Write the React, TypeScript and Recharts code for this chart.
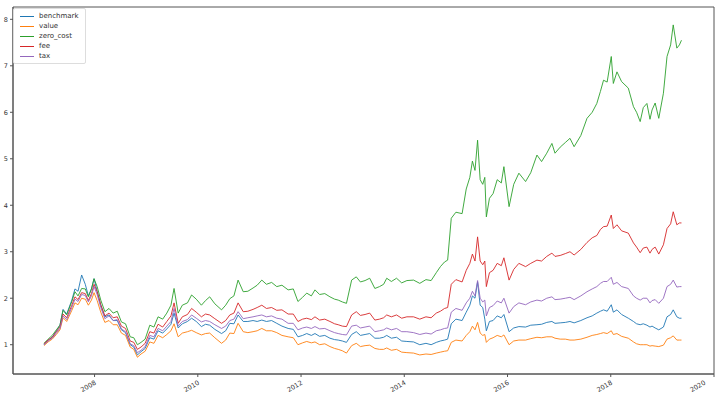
import { Line, LineChart, ReferenceArea, XAxis, YAxis } from 'recharts';

// decimal years
const dates = [
  2007.02, 2007.1, 2007.18, 2007.26, 2007.33, 2007.39, 2007.46, 2007.56, 2007.62, 2007.68,
  2007.75, 2007.82, 2007.88, 2007.94, 2007.99, 2008.05, 2008.12, 2008.2, 2008.28, 2008.36,
  2008.44, 2008.52, 2008.6, 2008.69, 2008.76, 2008.83, 2008.9, 2008.98, 2009.07, 2009.15,
  2009.23, 2009.32, 2009.4, 2009.48, 2009.54, 2009.62, 2009.7, 2009.8, 2009.88, 2009.97,
  2010.07, 2010.15, 2010.23, 2010.33, 2010.46, 2010.54, 2010.62, 2010.7, 2010.78, 2010.88,
  2010.97, 2011.07, 2011.15, 2011.24, 2011.33, 2011.43, 2011.53, 2011.63, 2011.75, 2011.85,
  2011.94, 2012.03, 2012.11, 2012.2, 2012.27, 2012.36, 2012.46, 2012.56, 2012.65, 2012.72,
  2012.8, 2012.88, 2012.98, 2013.07, 2013.15, 2013.24, 2013.33, 2013.43, 2013.52, 2013.6,
  2013.66, 2013.75, 2013.85, 2013.95, 2014.05, 2014.18, 2014.3, 2014.42, 2014.52, 2014.62,
  2014.7, 2014.78, 2014.84, 2014.91, 2015.0, 2015.12, 2015.2, 2015.27, 2015.32, 2015.37,
  2015.42, 2015.47, 2015.52, 2015.56, 2015.59, 2015.65, 2015.72, 2015.8, 2015.88, 2015.93,
  2016.03, 2016.12, 2016.22, 2016.35, 2016.45, 2016.57, 2016.66, 2016.76, 2016.86, 2016.92,
  2017.02, 2017.12, 2017.21, 2017.29, 2017.42, 2017.54, 2017.64, 2017.73, 2017.8, 2017.86,
  2017.93, 2018.01, 2018.05, 2018.12, 2018.21, 2018.34, 2018.44, 2018.5, 2018.57, 2018.63,
  2018.7, 2018.76, 2018.8, 2018.86, 2018.93, 2019.02, 2019.09, 2019.16, 2019.21, 2019.28,
  2019.33, 2019.37,
];

const benchmark = [
  1.0, 1.1, 1.16, 1.3, 1.42, 1.76, 1.66, 1.96, 2.2, 2.15,
  2.5, 2.3, 2.05, 2.2, 2.42, 2.15, 1.85, 1.6, 1.64, 1.52,
  1.52, 1.32, 1.26, 1.0, 0.95, 0.78, 0.85, 0.92, 1.15, 1.12,
  1.3, 1.25, 1.34, 1.44, 1.68, 1.36, 1.45, 1.5, 1.57, 1.5,
  1.39, 1.44, 1.42, 1.33, 1.24, 1.3, 1.46, 1.45, 1.64, 1.5,
  1.5, 1.52, 1.5, 1.53, 1.5, 1.52, 1.46, 1.4, 1.35, 1.33,
  1.17, 1.2, 1.24, 1.2, 1.24, 1.18, 1.2, 1.14, 1.11, 1.1,
  1.08, 1.05, 1.22, 1.28, 1.2, 1.22, 1.24, 1.14, 1.14, 1.16,
  1.2, 1.14, 1.16, 1.08, 1.07, 1.06, 1.0, 1.03, 1.0, 1.05,
  1.08, 1.1, 1.12, 1.45, 1.55, 1.52, 1.7, 1.85, 2.05, 2.0,
  2.35, 1.85, 1.8, 1.55, 1.3, 1.5, 1.52, 1.62, 1.58, 1.65,
  1.28, 1.36, 1.39, 1.38, 1.42, 1.43, 1.44, 1.48, 1.5, 1.46,
  1.47, 1.48, 1.5, 1.47, 1.52, 1.58, 1.62, 1.68, 1.72, 1.75,
  1.72, 1.86, 1.7, 1.75, 1.65, 1.57, 1.5, 1.45, 1.43, 1.45,
  1.42, 1.38, 1.4, 1.36, 1.32, 1.38, 1.6, 1.65, 1.75, 1.6,
  1.57, 1.57,
];

const value = [
  0.98, 1.06, 1.12, 1.22, 1.32, 1.58, 1.5, 1.74, 1.9, 1.86,
  2.0, 1.98, 1.85, 1.96, 2.12, 1.95, 1.7, 1.48, 1.52, 1.43,
  1.43, 1.25, 1.2, 0.95, 0.9, 0.73, 0.8, 0.86, 1.06, 1.03,
  1.2, 1.15, 1.22, 1.3, 1.45, 1.17, 1.25, 1.28, 1.31, 1.26,
  1.21, 1.24, 1.25, 1.15, 1.03, 1.1, 1.25, 1.24, 1.46, 1.28,
  1.26, 1.28, 1.3, 1.35, 1.3, 1.3, 1.26, 1.2, 1.17, 1.15,
  1.0, 1.04, 1.07, 1.04, 1.06, 1.0, 1.02, 0.96, 0.92, 0.9,
  0.87, 0.82, 0.98, 1.03, 0.96, 0.98, 0.99, 0.92, 0.9, 0.9,
  0.93, 0.88, 0.9, 0.84, 0.83, 0.82, 0.78, 0.8, 0.79, 0.82,
  0.84, 0.86, 0.87, 1.05, 1.1, 1.08, 1.2, 1.28, 1.4, 1.32,
  1.48, 1.25, 1.2, 1.22, 1.05, 1.12, 1.15, 1.2, 1.17, 1.21,
  1.0, 1.08, 1.1, 1.1, 1.13, 1.16, 1.15, 1.17, 1.17, 1.14,
  1.12, 1.12, 1.1, 1.1, 1.12, 1.16, 1.2, 1.22, 1.24, 1.26,
  1.24, 1.3, 1.22, 1.24, 1.18, 1.14, 1.06, 1.02, 1.0, 1.0,
  1.0, 0.97, 0.98, 0.97, 0.96, 0.99, 1.12, 1.15, 1.19, 1.1,
  1.1, 1.1,
];

const zeroCost = [
  1.03, 1.12, 1.2, 1.32, 1.42, 1.74, 1.64, 1.93, 2.14, 2.05,
  2.21, 2.2, 2.03, 2.2, 2.42, 2.25, 1.96, 1.71, 1.78, 1.68,
  1.72, 1.49, 1.45, 1.17, 1.15, 1.0, 1.05, 1.12, 1.42, 1.38,
  1.6, 1.55, 1.68, 1.85, 2.21, 1.68, 1.85, 1.9, 2.07, 1.98,
  1.85, 1.95, 2.03, 1.88, 1.75, 1.85, 1.99, 2.05, 2.39, 2.14,
  2.15, 2.22, 2.28, 2.39, 2.3, 2.34, 2.25, 2.28, 2.18, 2.2,
  1.93, 2.02, 2.11, 2.05, 2.18, 2.08, 2.1, 2.03, 1.98, 1.96,
  1.92, 1.89, 2.39, 2.46, 2.35, 2.38, 2.43, 2.21, 2.25, 2.3,
  2.43, 2.36, 2.43, 2.33, 2.38, 2.39, 2.32, 2.4, 2.38, 2.55,
  2.68, 2.78, 2.82, 3.72, 3.85, 3.82, 4.35, 4.6, 4.95, 4.75,
  5.4, 4.55, 4.45, 4.6, 3.75, 4.15, 4.25, 4.55, 4.48, 4.83,
  3.97, 4.45, 4.69, 4.51, 4.7, 5.08, 4.94, 5.12, 5.33, 5.12,
  5.25, 5.35, 5.44, 5.26, 5.5, 5.87, 6.0, 6.19, 6.45, 6.69,
  6.65, 7.2, 6.62, 6.87, 6.66, 6.52, 6.12, 6.0, 5.8, 6.1,
  6.19, 5.85, 6.05, 6.2, 5.87, 6.41, 7.2, 7.45, 7.88, 7.38,
  7.45, 7.55,
];

const fee = [
  1.02, 1.1, 1.16, 1.28, 1.38, 1.66, 1.58, 1.85, 2.03, 1.97,
  2.12, 2.1, 1.95, 2.1, 2.3, 2.14, 1.86, 1.62, 1.68, 1.58,
  1.6, 1.4, 1.35, 1.08, 1.05, 0.9, 0.95, 1.03, 1.28, 1.25,
  1.44, 1.38, 1.5, 1.62, 1.9, 1.46, 1.6, 1.65, 1.78, 1.7,
  1.6, 1.66, 1.64, 1.56, 1.46, 1.52, 1.64, 1.68, 1.9, 1.71,
  1.72, 1.76, 1.8, 1.85, 1.78, 1.8, 1.74, 1.75, 1.66, 1.66,
  1.5, 1.55, 1.57, 1.54, 1.6, 1.53, 1.55, 1.5, 1.45, 1.43,
  1.4, 1.39, 1.64, 1.71, 1.63, 1.65, 1.68, 1.53, 1.55, 1.58,
  1.64, 1.6, 1.64, 1.57, 1.6, 1.6, 1.55, 1.6, 1.58, 1.68,
  1.72, 1.78, 1.8, 2.3, 2.4, 2.35, 2.6, 2.75, 2.95, 2.8,
  3.32, 2.8, 2.72, 2.8, 2.25, 2.55, 2.6, 2.75, 2.7, 2.87,
  2.39, 2.62, 2.75, 2.68, 2.75, 2.82, 2.8, 2.9, 2.97, 2.9,
  2.92, 2.96, 3.0, 2.93, 3.05, 3.2, 3.3, 3.35, 3.48, 3.54,
  3.55, 3.79, 3.5, 3.58, 3.45, 3.4, 3.19, 3.1, 2.98, 3.08,
  3.1, 2.97, 3.05, 3.1, 2.95, 3.15, 3.5, 3.6, 3.86, 3.58,
  3.62, 3.62,
];

const tax = [
  1.0, 1.08, 1.14, 1.25, 1.35, 1.62, 1.54, 1.8, 1.98, 1.93,
  2.08, 2.06, 1.92, 2.05, 2.25, 2.08, 1.8, 1.56, 1.62, 1.52,
  1.54, 1.34, 1.28, 1.02, 0.98, 0.83, 0.88, 0.96, 1.2, 1.17,
  1.35, 1.3, 1.4, 1.5, 1.78, 1.4, 1.5, 1.54, 1.64, 1.57,
  1.49, 1.52, 1.5, 1.43, 1.35, 1.4, 1.52, 1.55, 1.71, 1.56,
  1.58, 1.6, 1.62, 1.64, 1.6, 1.62, 1.57, 1.55, 1.46, 1.46,
  1.32, 1.36, 1.38, 1.35, 1.39, 1.34, 1.35, 1.3, 1.26, 1.24,
  1.22, 1.21, 1.4, 1.42, 1.36, 1.38, 1.4, 1.28, 1.3, 1.32,
  1.36, 1.32, 1.35, 1.28, 1.28, 1.26, 1.22, 1.25, 1.23, 1.3,
  1.32, 1.35, 1.36, 1.7, 1.78, 1.74, 1.9, 2.0, 2.15, 2.05,
  2.38, 2.0, 1.92, 1.96, 1.62, 1.8, 1.84, 1.94, 1.9, 2.0,
  1.68, 1.82, 1.9, 1.86, 1.92, 1.96, 1.94, 2.0, 2.03, 1.97,
  1.98, 2.0, 2.02, 1.97, 2.05, 2.14, 2.2, 2.25, 2.32, 2.36,
  2.36, 2.45, 2.3, 2.34, 2.25, 2.21, 2.05, 2.0, 1.96, 2.0,
  2.0, 1.9, 1.95, 1.97, 1.89, 2.0, 2.25, 2.3, 2.39, 2.24,
  2.25, 2.25,
];

const xTicks = [2008, 2010, 2012, 2014, 2016, 2018, 2020];
const yTicks = [1, 2, 3, 4, 5, 6, 7, 8];

const series = [
  { key: 'benchmark', color: '#1f77b4' },
  { key: 'value', color: '#ff7f0e' },
  { key: 'zero_cost', color: '#2ca02c' },
  { key: 'fee', color: '#d62728' },
  { key: 'tax', color: '#9467bd' },
];

const data = dates.map((t, i) => ({
  t,
  benchmark: benchmark[i],
  value: value[i],
  zero_cost: zeroCost[i],
  fee: fee[i],
  tax: tax[i],
}));

const FONT = '"DejaVu Sans", sans-serif';
const SPINE = '#555';
const X_DOMAIN: [number, number] = [2006.42, 2020];
const Y_DOMAIN: [number, number] = [0.37, 8.265];

function XTick({ x, y, payload }: any) {
  const ax = x + 2;
  const ay = y + 5;
  return (
    <text
      x={ax}
      y={ay}
      transform={`rotate(-30 ${ax} ${ay})`}
      textAnchor="end"
      fontSize={6.5}
      fontFamily={FONT}
      fill="#333"
    >
      {payload.value}
    </text>
  );
}

// matplotlib-style legend in the upper left corner of the axes
function LegendBox() {
  return (
    <div
      style={{
        position: 'absolute',
        left: 13,
        top: 8,
        border: '1px solid #ddd',
        borderRadius: 2,
        background: 'rgba(255,255,255,0.8)',
        padding: '2px 6px 2px 6px',
        fontFamily: FONT,
        fontSize: 7,
        color: '#333',
      }}
    >
      {series.map((s) => (
        <div key={s.key} style={{ display: 'flex', alignItems: 'center', height: 10 }}>
          <span style={{ width: 14, height: 1, background: s.color, marginRight: 5 }} />
          <span>{s.key}</span>
        </div>
      ))}
    </div>
  );
}

export default function App() {
  return (
    <div style={{ position: 'absolute', left: 0, top: 0, width: 720, height: 397, background: '#fff' }}>
      <LineChart width={720} height={397} data={data} margin={{ top: 7, right: 6, bottom: 0, left: 0 }}>
        <XAxis
          dataKey="t"
          type="number"
          domain={X_DOMAIN}
          ticks={xTicks}
          allowDataOverflow
          height={23}
          tickSize={3}
          stroke={SPINE}
          tick={<XTick />}
        />
        <YAxis
          type="number"
          domain={Y_DOMAIN}
          ticks={yTicks}
          allowDataOverflow
          width={13}
          tickSize={3}
          tickMargin={2}
          stroke={SPINE}
          tick={{ fontSize: 6.5, fill: '#333', fontFamily: FONT }}
        />
        {/* box frame around the axes, like matplotlib's four spines */}
        <ReferenceArea
          x1={X_DOMAIN[0]}
          x2={X_DOMAIN[1]}
          y1={Y_DOMAIN[0]}
          y2={Y_DOMAIN[1]}
          fill="none"
          stroke={SPINE}
          strokeWidth={1}
          ifOverflow="visible"
        />
        {series.map((s) => (
          <Line
            key={s.key}
            dataKey={s.key}
            stroke={s.color}
            strokeWidth={0.9}
            dot={false}
            isAnimationActive={false}
          />
        ))}
      </LineChart>
      <LegendBox />
    </div>
  );
}
